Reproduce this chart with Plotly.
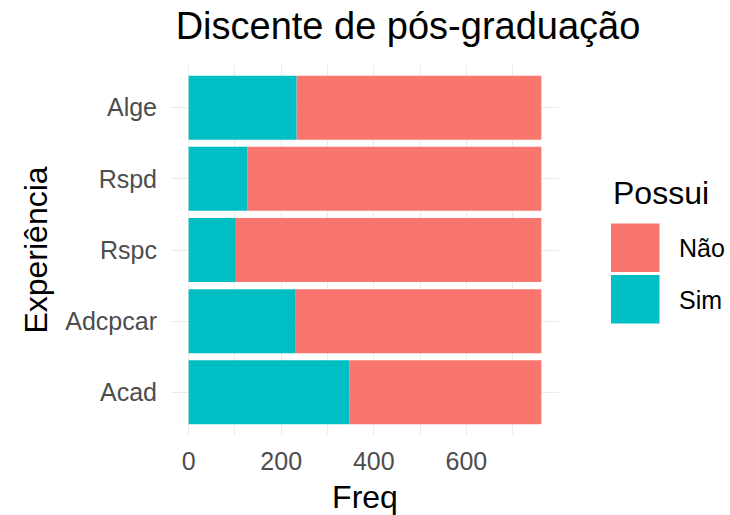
import plotly.graph_objects as go

# dados
experiencia = ["Acad", "Adcpcar", "Rspc", "Rspd", "Alge"]
sim = [347, 230, 102, 127, 233]
nao = [415, 532, 660, 635, 529]
possui = ["Não", "Sim"]
cores = {"Não": "#F8766D", "Sim": "#00BFC4"}

W, H = 730, 515
L, R, T, B = 171, 171, 65, 80
PW, PH = W - L - R, H - T - B


def px(x):
    return (x - L) / PW


def py(y):
    return (H - B - y) / PH


fonte = "Arial, Liberation Sans, sans-serif"

fig = go.Figure()

fig.add_trace(go.Bar(
    y=experiencia, x=nao, name="Não", orientation="h",
    marker=dict(color=cores["Não"], line_width=0),
    base=sim, showlegend=False,
))
fig.add_trace(go.Bar(
    y=experiencia, x=sim, name="Sim", orientation="h",
    marker=dict(color=cores["Sim"], line_width=0),
    showlegend=False,
))

total = max(s + n for s, n in zip(sim, nao))

# legenda desenhada à mão (chaves grandes como no ggplot)
fig.add_annotation(
    text="Possui", xref="paper", yref="paper",
    x=px(611), y=py(193), xanchor="left", yanchor="middle",
    showarrow=False, font=dict(size=32, color="black", family=fonte),
)
for i, p in enumerate(possui):
    y0 = 223.5 + i * 51.5
    fig.add_shape(
        type="rect", xref="paper", yref="paper",
        x0=px(611), x1=px(659.5), y0=py(y0), y1=py(y0 + 48.5),
        fillcolor=cores[p], line_width=0, layer="above",
    )
    fig.add_annotation(
        text=p, xref="paper", yref="paper",
        x=px(677), y=py(y0 + 24.5), xanchor="left", yanchor="middle",
        showarrow=False, font=dict(size=25, color="black", family=fonte),
    )

fig.update_layout(
    width=W, height=H,
    margin=dict(l=L, r=R, t=T, b=B, autoexpand=False),
    barmode="overlay",
    bargap=0.1,
    plot_bgcolor="white",
    paper_bgcolor="white",
    font=dict(family=fonte, color="black"),
    title=dict(
        text="Discente de pós-graduação",
        x=px(408), xref="paper", xanchor="center",
        y=1 - 26 / H, yref="container", yanchor="middle",
        font=dict(size=38, color="black", family=fonte),
    ),
    xaxis=dict(
        range=[-0.05 * total, 1.05 * total],
        tickvals=[0, 200, 400, 600],
        showgrid=True, gridcolor="#EBEBEB", gridwidth=1.1,
        minor=dict(tickvals=[100, 300, 500, 700], showgrid=True,
                   gridcolor="#EBEBEB", gridwidth=0.6),
        zeroline=False, showline=False, ticks="",
        automargin=False,
        tickfont=dict(size=25, color="#4D4D4D"),
        ticklabelstandoff=9,
        title=dict(text="Freq", font=dict(size=32, color="black"), standoff=20),
    ),
    yaxis=dict(
        categoryorder="array", categoryarray=experiencia,
        range=[-0.6, len(experiencia) - 0.4],
        showgrid=True, gridcolor="#EBEBEB", gridwidth=1.1,
        zeroline=False, showline=False, ticks="",
        automargin=False,
        tickfont=dict(size=25, color="#4D4D4D"),
        ticklabelstandoff=13,
        title=dict(text="Experiência", font=dict(size=32, color="black"), standoff=8),
    ),
)

# sem margem do body, para a figura ocupar a janela inteira
fig.write_html(
    "out.html",
    config={"displayModeBar": False},
    post_script="document.body.style.margin = '0';",
)
